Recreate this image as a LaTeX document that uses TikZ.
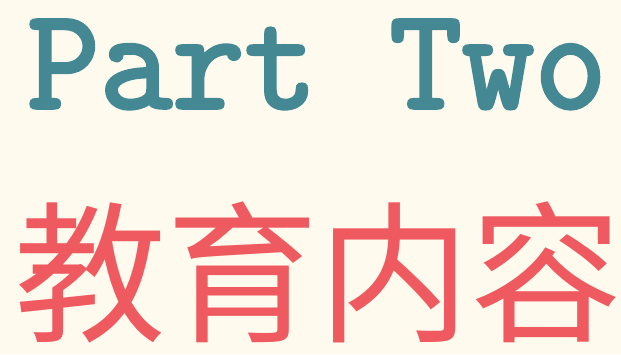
\documentclass[tikz,border=0pt]{standalone}
\usepackage{fontspec}
\usetikzlibrary{positioning}
\newfontfamily\partfont[FakeBold=2.5]{Latin Modern Mono}
\newfontfamily\cjk{Noto Sans CJK SC}
\definecolor{paper}{HTML}{FFFAEE}
\definecolor{tealink}{HTML}{438893}
\definecolor{redink}{HTML}{EE5A5F}
\tikzstyle{parttitle}=[inner sep=0pt, text height=92pt, text depth=20pt, text=tealink, font=\partfont\fontsize{144}{144}\selectfont, xscale=0.977]
\tikzstyle{cntitle}=[inner sep=0pt, text=redink, font=\cjk\fontsize{152}{152}\selectfont]

\begin{document}
\begin{tikzpicture}[x=1pt, y=-1pt]

  % background, same size as the page
  \fill[paper] (0,0) rectangle (621,354);
  \useasboundingbox (0,0) rectangle (621,354);

  \node[parttitle, anchor=base west] (part) at (27, 108) {Part Two};

  \node[cntitle, anchor=base west] (topic) at (14, 330) {教育内容};

\end{tikzpicture}
\end{document}
